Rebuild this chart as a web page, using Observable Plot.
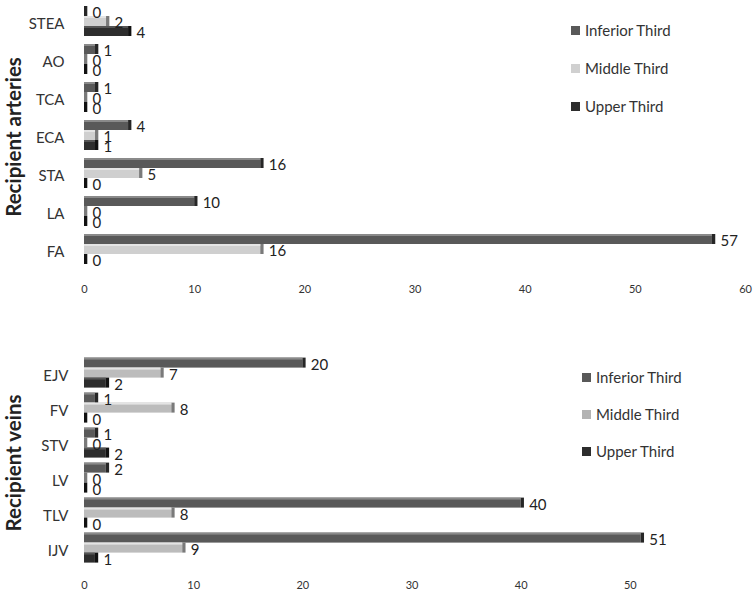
<!DOCTYPE html>
<html>
<head>
<meta charset="utf-8">
<script src="https://cdn.jsdelivr.net/npm/d3@7"></script>
<script src="https://cdn.jsdelivr.net/npm/@observablehq/plot@0.6"></script>
<style>
  body { margin: 0; background: #fff; }
  #wrap { position: relative; width: 753px; height: 591px; font-family: Lato, "Open Sans", sans-serif; overflow: hidden; }
  .panel { position: absolute; left: 0; }
  .ytitle { position: absolute; font-weight: bold; font-size: 20.5px; color: #222; white-space: nowrap;
            transform: translate(-50%, -50%) rotate(-90deg); }
  .legend { position: absolute; font-size: 15px; color: #333; }
  .legend .row { position: absolute; white-space: nowrap; display: flex; align-items: center; transform: translateY(-50%); }
  .legend .sw { width: 9px; height: 9px; margin-right: 5px; display: inline-block; }
</style>
</head>
<body>
<div id="wrap"></div>
<script>
// ---- data ----
const series = ["Inferior Third", "Middle Third", "Upper Third"];

const arteryCats = ["STEA", "AO", "TCA", "ECA", "STA", "LA", "FA"];
const arteryInferior = [0, 1, 1, 4, 16, 10, 57];
const arteryMiddle   = [2, 0, 0, 1, 5, 0, 16];
const arteryUpper    = [4, 0, 0, 1, 0, 0, 0];
const arteryTicks = [0, 10, 20, 30, 40, 50, 60];

const veinCats = ["EJV", "FV", "STV", "LV", "TLV", "IJV"];
const veinInferior = [20, 1, 1, 2, 40, 51];
const veinMiddle   = [7, 8, 0, 0, 8, 9];
const veinUpper    = [2, 0, 2, 0, 0, 1];
const veinTicks = [0, 10, 20, 30, 40, 50];

function rows(cats, inf, mid, up) {
  const out = [];
  cats.forEach((c, i) => {
    out.push({cat: c, series: series[0], value: inf[i]});
    out.push({cat: c, series: series[1], value: mid[i]});
    out.push({cat: c, series: series[2], value: up[i]});
  });
  return out;
}

function makeChart(cats, data, o) {
  const capColor = d => d.series === series[0] ? "#262626" : d.series === series[1] ? "#7a7a7a" : "#111";
  const topColor = d => d.series === series[0] ? "#8a8a8a" : d.series === series[1] ? "#e4e4e4" : "#555";
  return Plot.plot({
    width: 753,
    height: o.height,
    marginLeft: 84,
    marginRight: o.marginRight,
    marginTop: o.marginTop,
    marginBottom: o.marginBottom,
    style: {fontFamily: "Lato, 'Open Sans', sans-serif", color: "#333", background: "transparent"},
    x: {domain: [0, 60]},
    y: {domain: series, padding: 0, axis: null},
    fy: {domain: cats, paddingInner: o.pad, paddingOuter: o.pad / 2},
    color: {domain: series, range: o.colors},
    marks: [
      Plot.barX(data, {x: "value", y: "series", fy: "cat", fill: "series"}),
      Plot.rectX(data, {x1: "value", x2: d => d.value + 0.3, y: "series", fy: "cat", fill: capColor}),
      Plot.rectX(data, {x1: 0, x2: "value", y: "series", fy: "cat", fill: topColor, insetBottom: o.bevel}),
      Plot.text(data, {x: "value", y: "series", fy: "cat", text: d => String(d.value),
        textAnchor: "start", dx: 8, dy: 2, fontSize: 15, fill: "#222"}),
      Plot.axisFy({anchor: "left", tickSize: 0, tickPadding: o.labelPad, fontSize: 15, label: null, dy: 3, color: "#333"}),
      Plot.axisX({ticks: o.ticks, tickSize: 0, tickPadding: o.tickPad, fontSize: 11, label: null, color: "#333"})
    ]
  });
}

const wrap = document.getElementById("wrap");

const chartTop = makeChart(arteryCats, rows(arteryCats, arteryInferior, arteryMiddle, arteryUpper), {
  height: 300, marginTop: 0, marginBottom: 31, marginRight: 8, pad: 0.17,
  colors: ["#595959", "#cfcfcf", "#2d2d2d"], ticks: arteryTicks, tickPad: 20, labelPad: 20, bevel: 8
});
chartTop.classList.add("panel"); chartTop.style.top = "0px";
wrap.appendChild(chartTop);

const chartBottom = makeChart(veinCats, rows(veinCats, veinInferior, veinMiddle, veinUpper), {
  height: 251, marginTop: 14.4, marginBottom: 25.4, marginRight: 14, pad: 0.15,
  colors: ["#595959", "#bcbcbc", "#2d2d2d"], ticks: veinTicks, tickPad: 18, labelPad: 16, bevel: 8
});
chartBottom.classList.add("panel"); chartBottom.style.top = "340px";
wrap.appendChild(chartBottom);

// axis titles
function title(text, x, y) {
  const d = document.createElement("div");
  d.className = "ytitle"; d.textContent = text;
  d.style.left = x + "px"; d.style.top = y + "px";
  wrap.appendChild(d);
}
title("Recipient arteries", 13, 137);
title("Recipient veins", 13, 463);

// legends
function legend(x, ys, colors) {
  const l = document.createElement("div");
  l.className = "legend"; l.style.left = x + "px"; l.style.top = "0px";
  series.forEach((s, i) => {
    const r = document.createElement("div");
    r.className = "row"; r.style.top = ys[i] + "px"; r.style.left = "0px";
    const sw = document.createElement("span");
    sw.className = "sw"; sw.style.background = colors[i];
    r.appendChild(sw);
    r.appendChild(document.createTextNode(s));
    l.appendChild(r);
  });
  wrap.appendChild(l);
}
legend(571, [30, 68, 106], ["#595959", "#d0d0d0", "#2d2d2d"]);
legend(582, [377, 414, 451], ["#595959", "#b3b3b3", "#2d2d2d"]);
</script>
</body>
</html>
